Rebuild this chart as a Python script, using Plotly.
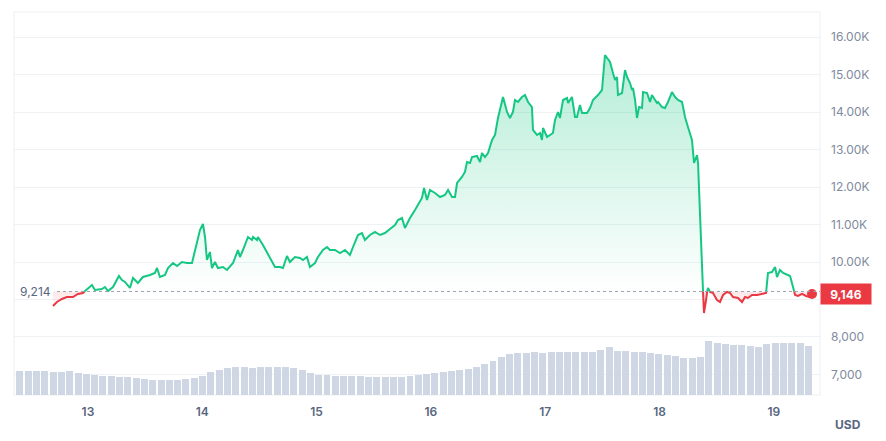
import numpy as np
import plotly.graph_objects as go

# ---------------- data ----------------
days = [12.694, 12.729, 12.772, 12.816, 12.869, 12.912, 12.956,
        13.000, 13.035, 13.061, 13.122, 13.149, 13.175, 13.219, 13.271, 13.297, 13.324,
        13.367, 13.394, 13.437, 13.481, 13.542, 13.586, 13.604, 13.630, 13.674, 13.700,
        13.744, 13.779, 13.822, 13.866, 13.910, 13.927, 13.954, 13.980,
        14.006, 14.024, 14.041, 14.067, 14.085, 14.111, 14.137, 14.181, 14.216, 14.242,
        14.269, 14.312, 14.330, 14.356, 14.400, 14.435, 14.444, 14.479, 14.487, 14.531,
        14.592, 14.636, 14.680, 14.706, 14.741, 14.767, 14.811, 14.855, 14.881, 14.916,
        14.942, 14.986, 15.012, 15.056, 15.091, 15.117, 15.161, 15.205, 15.249, 15.292,
        15.319, 15.362, 15.397, 15.423, 15.467, 15.511, 15.555, 15.598, 15.642, 15.686,
        15.712, 15.747, 15.773, 15.817, 15.861, 15.887, 15.922, 15.940, 15.966, 15.992,
        16.036, 16.080, 16.123, 16.150, 16.185, 16.211, 16.229, 16.272, 16.298, 16.316,
        16.342, 16.360, 16.403, 16.430, 16.447, 16.473, 16.500, 16.535, 16.561, 16.587,
        16.622, 16.631, 16.666, 16.692, 16.718, 16.736, 16.762, 16.797, 16.823, 16.850,
        16.884, 16.893, 16.928, 16.955, 16.972, 16.981, 17.016, 17.042, 17.068, 17.086,
        17.112, 17.129, 17.156, 17.191, 17.200, 17.234, 17.261, 17.278, 17.304, 17.322,
        17.366, 17.392, 17.418, 17.462, 17.497, 17.523, 17.549, 17.567, 17.593, 17.611,
        17.628, 17.637, 17.672, 17.698, 17.716, 17.742, 17.760, 17.768, 17.786, 17.803,
        17.821, 17.847, 17.856, 17.891, 17.917, 17.934, 17.961, 17.978, 17.987, 18.022,
        18.048, 18.074, 18.109, 18.136, 18.162, 18.197, 18.206, 18.223, 18.249, 18.284,
        18.302, 18.328, 18.337, 18.354, 18.372, 18.381, 18.389, 18.407, 18.416, 18.424,
        18.442, 18.468, 18.503, 18.529, 18.556, 18.591, 18.617, 18.643, 18.687, 18.722,
        18.748, 18.774, 18.809, 18.853, 18.897, 18.932, 18.949, 18.984, 19.011, 19.028,
        19.054, 19.081, 19.115, 19.142, 19.168, 19.186, 19.212, 19.247, 19.282, 19.308,
        19.334]

prices = [8827, 8933, 9013, 9067, 9067, 9147, 9173,
          9307, 9387, 9253, 9280, 9333, 9227, 9333, 9627, 9520, 9467,
          9307, 9573, 9440, 9600, 9653, 9707, 9840, 9600, 9653, 9840,
          9973, 9893, 10000, 9973, 9973, 10187, 10533, 10853,
          11013, 10667, 10053, 10267, 9840, 10000, 9840, 9867, 9787, 9893,
          9973, 10320, 10133, 10320, 10667, 10587, 10667, 10587, 10667, 10453,
          10107, 9867, 9867, 9840, 10160, 10000, 10133, 10107, 10053, 10133,
          9867, 9973, 10133, 10320, 10400, 10320, 10320, 10240, 10320, 10187,
          10400, 10720, 10773, 10587, 10720, 10800, 10720, 10773, 10880, 10987,
          11120, 11173, 10907, 11173, 11387, 11520, 11707, 11973, 11653, 11920,
          11840, 11733, 11787, 11920, 11733, 11733, 12107, 12267, 12400, 12667,
          12640, 12800, 12827, 12667, 12907, 12800, 12907, 13253, 13387, 13840,
          14267, 14400, 14000, 13840, 14000, 14320, 14267, 14400, 14453, 14267,
          14133, 13520, 13387, 13440, 13253, 13573, 13333, 13387, 13440, 13787,
          14000, 13840, 14320, 14373, 14240, 14400, 13867, 13867, 14187, 13973,
          13973, 14107, 14320, 14453, 14587, 15520, 15387, 15333, 15040, 14853,
          14933, 14453, 14507, 15120, 14933, 14773, 14587, 14640, 14320, 13840,
          14133, 14107, 14533, 14507, 14267, 14453, 14320, 14240, 14267, 14133,
          14107, 14267, 14533, 14400, 14320, 14267, 14133, 13867, 13600, 13253,
          12640, 12853, 12640, 11467, 10133, 9173, 8640, 8987, 9200, 9307,
          9200, 9173, 8987, 8933, 9120, 9200, 9173, 9067, 9040, 8933,
          9067, 9040, 9120, 9120, 9147, 9173, 9707, 9733, 9867, 9600,
          9787, 9707, 9653, 9627, 9333, 9120, 9093, 9147, 9093, 9067,
          9146]

# 24h volume, billions USD (one bar per ~1.75 h)
volume_bn = [2.4, 2.4, 2.4, 2.4, 2.35, 2.3, 2.4, 2.2, 2.1, 2.05,
             1.95, 1.9, 1.85, 1.8, 1.75, 1.6, 1.55, 1.5, 1.5, 1.55,
             1.65, 1.75, 1.9, 2.3, 2.55, 2.7, 2.8, 2.8, 2.75, 2.8,
             2.85, 2.85, 2.8, 2.75, 2.5, 2.2, 2.05, 2.0, 1.95, 1.95,
             1.9, 1.9, 1.85, 1.8, 1.8, 1.8, 1.85, 1.9, 2.0, 2.1,
             2.2, 2.3, 2.4, 2.5, 2.6, 2.8, 3.1, 3.4, 3.8, 4.1,
             4.2, 4.25, 4.3, 4.25, 4.3, 4.3, 4.35, 4.3, 4.3, 4.3,
             4.5, 4.8, 4.45, 4.4, 4.35, 4.3, 4.2, 4.1, 4.0, 3.9,
             3.75, 3.7, 3.8, 5.4, 5.2, 5.1, 5.0, 5.0, 4.95, 4.8,
             5.1, 5.2, 5.2, 5.25, 5.2, 4.9]
volume_start_day = 12.405
volume_step_day = 0.0726

base_price = 9214
x_ticks = [13, 14, 15, 16, 17, 18, 19]
x_tick_text = ["13", "14", "15", "16", "17", "18", "19"]
y_ticks = [7000, 8000, 9000, 10000, 11000, 12000, 13000, 14000, 15000, 16000]
# the 9,000 label sits under the current-price tag, so it is left blank
y_tick_text = ["7,000", "8,000", "", "10.00K", "11.00K", "12.00K",
               "13.00K", "14.00K", "15.00K", "16.00K"]

GREEN = "#16c784"
RED = "#ea3943"
GRAY = "#58667e"

# ------------- split at base crossings -------------
xs, ys = [], []
for i in range(len(days)):
    if i > 0:
        p0, p1 = prices[i - 1], prices[i]
        if (p0 - base_price) * (p1 - base_price) < 0:
            t = (base_price - p0) / (p1 - p0)
            xs.append(days[i - 1] + t * (days[i] - days[i - 1]))
            ys.append(base_price)
    xs.append(days[i])
    ys.append(prices[i])
ys = np.array(ys, dtype=float)
green_line = [v if v >= base_price else None for v in ys]
red_line = [v if v <= base_price else None for v in ys]
green_fill = np.maximum(ys, base_price)
red_fill = np.minimum(ys, base_price)
base_arr = [base_price] * len(xs)

vol_days = volume_start_day + volume_step_day * np.arange(len(volume_bn))

fig = go.Figure()

# baseline + green fill
fig.add_trace(go.Scatter(x=xs, y=base_arr, mode="lines", line=dict(width=0),
                         hoverinfo="skip", showlegend=False))
fig.add_trace(go.Scatter(x=xs, y=green_fill, mode="lines", line=dict(width=0),
                         fill="tonexty",
                         fillgradient=dict(type="vertical", start=base_price, stop=max(prices),
                                           colorscale=[[0, "rgba(22,199,132,0)"],
                                                       [1, "rgba(22,199,132,0.32)"]]),
                         hoverinfo="skip", showlegend=False))
fig.add_trace(go.Scatter(x=xs, y=base_arr, mode="lines", line=dict(width=0),
                         hoverinfo="skip", showlegend=False))
fig.add_trace(go.Scatter(x=xs, y=red_fill, mode="lines", line=dict(width=0),
                         fill="tonexty",
                         fillgradient=dict(type="vertical", start=min(prices), stop=base_price,
                                           colorscale=[[0, "rgba(234,57,67,0)"],
                                                       [1, "rgba(234,57,67,0.12)"]]),
                         hoverinfo="skip", showlegend=False))

fig.add_trace(go.Scatter(x=xs, y=green_line, mode="lines",
                         line=dict(color=GREEN, width=2), connectgaps=False,
                         showlegend=False))
fig.add_trace(go.Scatter(x=xs, y=red_line, mode="lines",
                         line=dict(color=RED, width=2), connectgaps=False,
                         showlegend=False))
fig.add_trace(go.Scatter(x=[days[-1]], y=[prices[-1]], mode="markers",
                         marker=dict(color=RED, size=10), showlegend=False))

# volume
fig.add_trace(go.Bar(x=vol_days, y=volume_bn, yaxis="y2",
                     marker=dict(color="#cfd6e4", line=dict(width=0)),
                     width=volume_step_day * 0.84, showlegend=False))

x_range = [12.353, 19.404]
fig.update_layout(
    width=886, height=441,
    margin=dict(l=14, r=66, t=12, b=46),
    paper_bgcolor="white", plot_bgcolor="white",
    font=dict(family="Inter", color=GRAY, size=12),
    xaxis=dict(range=x_range, tickvals=x_ticks, ticktext=x_tick_text,
               showgrid=False, zeroline=False, ticks="", showline=False,
               tickfont=dict(family="Inter", size=12, color=GRAY, weight=600),
               ticklabelstandoff=8),
    yaxis=dict(range=[6453, 16667], side="right", tickvals=y_ticks, ticktext=y_tick_text,
               showgrid=True, gridcolor="#eff2f5", gridwidth=1, zeroline=False, ticks="",
               tickfont=dict(family="Inter", size=12, color="#808a9d"),
               ticklabelstandoff=10),
    yaxis2=dict(range=[0, 38.3], overlaying="y", side="left", visible=False,
                showgrid=False, zeroline=False),
    bargap=0,
    hovermode=False,
    shapes=[
        dict(type="rect", xref="paper", yref="paper", x0=0, x1=1, y0=0, y1=1,
             line=dict(color="#eceff3", width=1), layer="below"),
        dict(type="line", xref="x", yref="y", x0=12.729, x1=x_range[1],
             y0=base_price, y1=base_price,
             line=dict(color="#9aa2ae", width=1, dash="dot")),
    ],
    annotations=[
        dict(x=12.69, y=base_price, xref="x", yref="y", text=f"{base_price:,}",
             showarrow=False, xanchor="right", yanchor="middle",
             font=dict(family="Inter", size=12, color=GRAY)),
        dict(x=1, y=prices[-1], xref="paper", yref="y", text=f"<b>{prices[-1]:,}</b>",
             showarrow=False, xanchor="left", yanchor="middle", bgcolor=RED,
             width=46, height=16, borderpad=2,
             font=dict(family="Inter", size=12, color="white")),
        dict(x=1.035, y=-0.078, xref="paper", yref="paper", text="<b>USD</b>",
             showarrow=False, xanchor="center", yanchor="middle",
             font=dict(family="Inter", size=12, color=GRAY)),
    ],
)

fig.write_html("out.html")
